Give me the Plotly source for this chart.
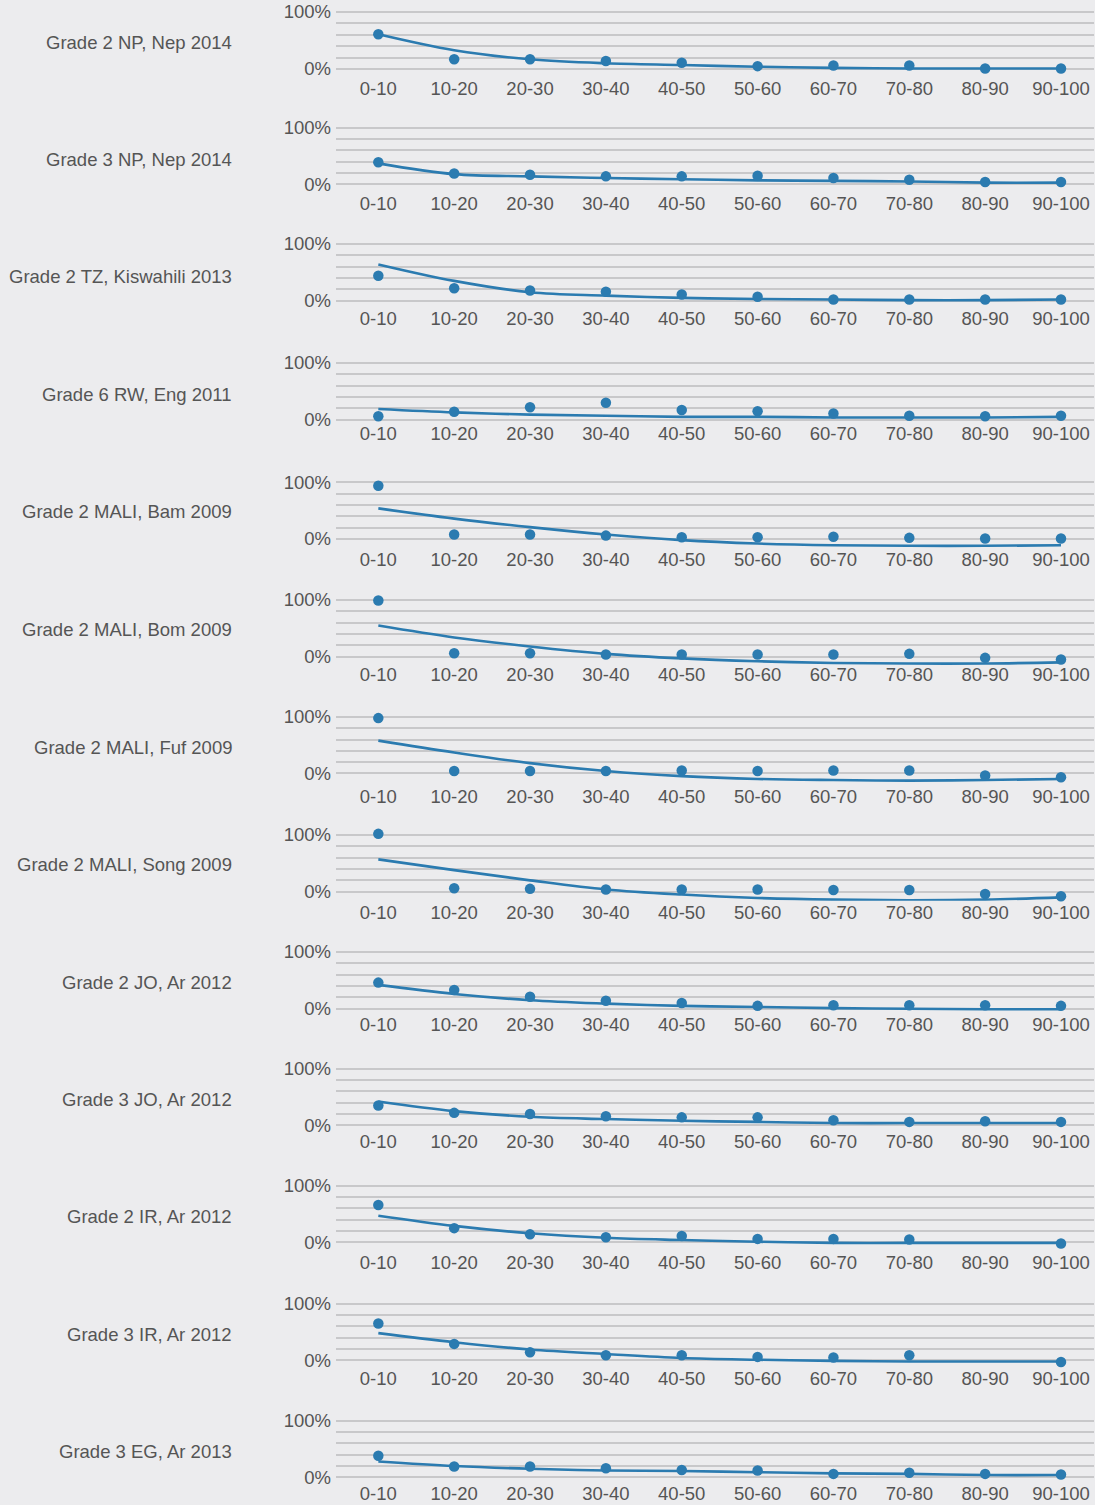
import plotly.graph_objects as go

# ---------------- data ----------------
categories = ["0-10", "10-20", "20-30", "30-40", "40-50",
              "50-60", "60-70", "70-80", "80-90", "90-100"]

panel_titles = [
    "Grade 2 NP, Nep 2014", "Grade 3 NP, Nep 2014", "Grade 2 TZ, Kiswahili 2013",
    "Grade 6 RW, Eng 2011", "Grade 2 MALI, Bam 2009", "Grade 2 MALI, Bom 2009",
    "Grade 2 MALI, Fuf 2009", "Grade 2 MALI, Song 2009", "Grade 2 JO, Ar 2012",
    "Grade 3 JO, Ar 2012", "Grade 2 IR, Ar 2012", "Grade 3 IR, Ar 2012",
    "Grade 3 EG, Ar 2013",
]

y_tick_vals = [0, 20, 40, 60, 80, 100]
y_tick_text = ["0%", "", "", "", "", "100%"]

# observed shares (%) per category, and fitted trend (%) per category
obs_g2_np_nep = [61, 17, 17, 14, 11, 5, 6, 6, 1, 1]
fit_g2_np_nep = [61, 33, 17, 10, 7, 4, 2, 1, 1, 1]

obs_g3_np_nep = [39, 19, 17, 14, 14, 15, 11, 8, 4, 4]
fit_g3_np_nep = [37, 18, 14, 11, 9, 7, 6, 5, 3, 3]

obs_g2_tz_kis = [44, 22, 18, 16, 11, 7, 2, 2, 2, 2]
fit_g2_tz_kis = [64, 35, 15, 9, 5, 3, 2, 1, 1, 2]

obs_g6_rw_eng = [6, 14, 22, 30, 17, 15, 11, 7, 6, 7]
fit_g6_rw_eng = [19, 13, 9, 7, 5, 5, 4, 4, 4, 5]

obs_g2_mali_bam = [94, 8, 8, 6, 3, 3, 4, 2, 1, 1]
fit_g2_mali_bam = [54, 36, 21, 8, -2, -8, -11, -12, -12, -11]

obs_g2_mali_bom = [99, 6, 6, 4, 4, 4, 4, 5, -2, -5]
fit_g2_mali_bom = [55, 34, 18, 5, -3, -8, -11, -12, -12, -10]

obs_g2_mali_fuf = [98, 4, 4, 4, 5, 4, 5, 5, -4, -7]
fit_g2_mali_fuf = [58, 37, 18, 4, -5, -10, -12, -13, -12, -10]

obs_g2_mali_song = [102, 6, 5, 4, 4, 4, 3, 3, -4, -8]
fit_g2_mali_song = [57, 38, 20, 4, -5, -11, -14, -15, -14, -10]

obs_g2_jo_ar = [46, 33, 21, 14, 10, 5, 6, 6, 6, 5]
fit_g2_jo_ar = [42, 26, 15, 9, 5, 3, 1, 0, -1, -1]

obs_g3_jo_ar = [35, 22, 20, 16, 14, 14, 9, 6, 7, 6]
fit_g3_jo_ar = [42, 25, 15, 11, 8, 6, 4, 4, 4, 4]

obs_g2_ir_ar = [66, 25, 14, 9, 11, 6, 6, 5, None, -2]
fit_g2_ir_ar = [47, 29, 16, 8, 4, 1, -1, -1, -1, -1]

obs_g3_ir_ar = [65, 29, 14, 9, 9, 6, 5, 9, None, -3]
fit_g3_ir_ar = [48, 32, 19, 11, 4, 1, -1, -2, -2, -2]

obs_g3_eg_ar = [38, 19, 19, 16, 13, 12, 6, 8, 6, 5]
fit_g3_eg_ar = [28, 20, 15, 12, 11, 9, 7, 6, 4, 4]

observed = [obs_g2_np_nep, obs_g3_np_nep, obs_g2_tz_kis, obs_g6_rw_eng,
            obs_g2_mali_bam, obs_g2_mali_bom, obs_g2_mali_fuf, obs_g2_mali_song,
            obs_g2_jo_ar, obs_g3_jo_ar, obs_g2_ir_ar, obs_g3_ir_ar, obs_g3_eg_ar]
fitted = [fit_g2_np_nep, fit_g3_np_nep, fit_g2_tz_kis, fit_g6_rw_eng,
          fit_g2_mali_bam, fit_g2_mali_bom, fit_g2_mali_fuf, fit_g2_mali_song,
          fit_g2_jo_ar, fit_g3_jo_ar, fit_g2_ir_ar, fit_g3_ir_ar, fit_g3_eg_ar]

# ---------------- layout (pixel geometry) ----------------
W, H = 1095, 1505
# pixel rows of the 100% and 0% gridlines for each panel
grid_top_px = [12, 127.7, 244, 363, 482.3, 600, 717, 835, 952, 1068.7, 1185.7, 1303.7, 1420.7]
grid_zero_px = [69, 184.3, 300.7, 419.7, 539, 656.7, 773.3, 891.7, 1008.7, 1125.3, 1242.3, 1360.3, 1477.3]
# distance (px) from the 0% gridline down to the centre of the category labels
xlabel_gap_px = [19, 19, 18, 14, 20, 18, 23, 21, 16, 16, 20, 18, 16]
title_px = [42, 159, 277, 394, 512, 629, 747, 864, 982, 1099, 1216, 1334, 1451]
plot_left_px, plot_right_px = 336, 1094
x_range = [-0.558, 9.435]
y_lo, y_hi = -16, 106

BG = "#ECECEE"
BLUE = "#2B7BB0"
TEXT = "#555555"
GRID = "#C8C8CA"
FONT = "Liberation Sans, Arial, Helvetica, sans-serif"
FS = 18.5

fig = go.Figure()
layout_axes = {}
annotations = []

for i in range(len(panel_titles)):
    n = i + 1
    xa = "x" if n == 1 else f"x{n}"
    ya = "y" if n == 1 else f"y{n}"
    ppu = (grid_zero_px[i] - grid_top_px[i]) / 100.0
    bottom_px = grid_zero_px[i] + (-y_lo) * ppu
    top_px = grid_top_px[i] - (y_hi - 100) * ppu

    fig.add_trace(go.Scatter(
        x=categories, y=fitted[i], mode="lines",
        line=dict(color=BLUE, width=2.6, shape="spline", smoothing=1.0),
        xaxis=xa, yaxis=ya, showlegend=False, hoverinfo="skip"))
    fig.add_trace(go.Scatter(
        x=categories, y=observed[i], mode="markers",
        marker=dict(color=BLUE, size=10.5),
        cliponaxis=False,
        xaxis=xa, yaxis=ya, showlegend=False))

    layout_axes["xaxis" if n == 1 else f"xaxis{n}"] = dict(
        domain=[plot_left_px / W, plot_right_px / W],
        anchor=ya, type="category", range=x_range,
        showgrid=False, zeroline=False, showline=False, ticks="",
        automargin=False, ticklabelstandoff=int(round(-3 + xlabel_gap_px[i] - 19)),
        tickfont=dict(size=FS, color=TEXT, family=FONT),
    )
    layout_axes["yaxis" if n == 1 else f"yaxis{n}"] = dict(
        domain=[1 - bottom_px / H, 1 - top_px / H],
        anchor=xa, range=[y_lo, y_hi],
        tickvals=y_tick_vals, ticktext=y_tick_text,
        showgrid=True, gridcolor=GRID, gridwidth=1.5,
        zeroline=False, showline=False, ticks="",
        automargin=False, ticklabelstandoff=4,
        tickfont=dict(size=FS, color=TEXT, family=FONT),
    )
    annotations.append(dict(
        text=panel_titles[i], xref="paper", yref="paper",
        x=234 / W, y=1 - title_px[i] / H, xanchor="right", yanchor="middle",
        showarrow=False, font=dict(size=FS, color=TEXT, family=FONT)))

fig.update_layout(
    width=W, height=H, autosize=False,
    margin=dict(l=0, r=0, t=0, b=0, pad=0, autoexpand=False),
    paper_bgcolor=BG, plot_bgcolor=BG,
    font=dict(family=FONT, color=TEXT, size=FS),
    annotations=annotations,
    showlegend=False,
    **layout_axes,
)

fig.write_html(
    "out.html",
    config={"displayModeBar": False},
    post_script="document.body.style.margin='0';document.body.style.padding='0';"
                "document.documentElement.style.background='#ECECEE';",
)
